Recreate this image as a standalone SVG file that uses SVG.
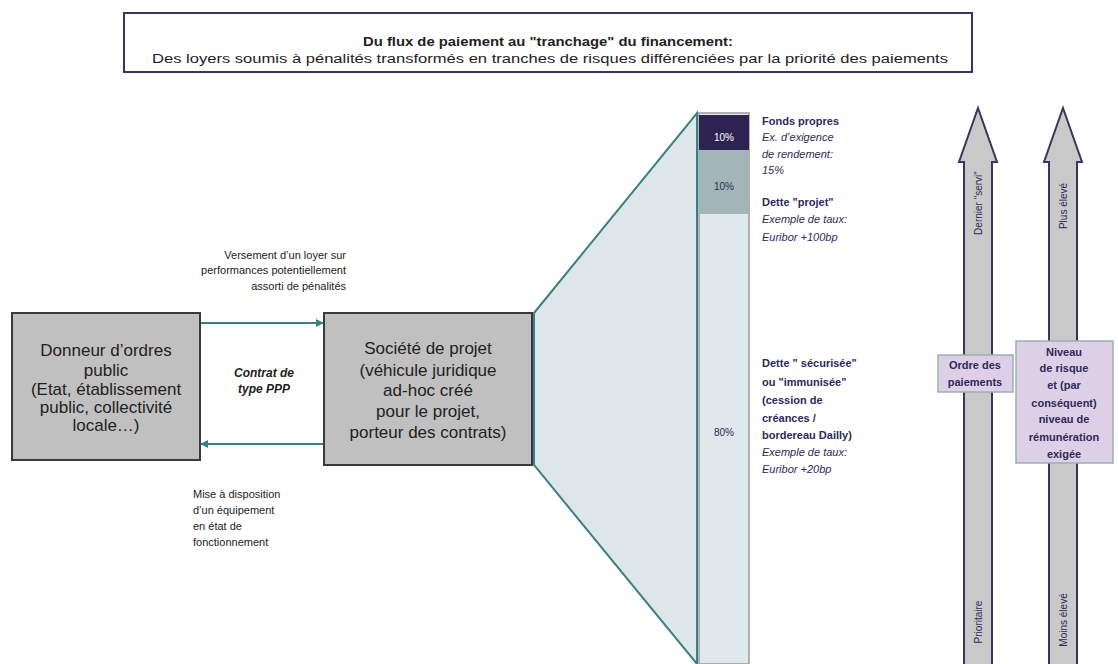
<svg xmlns="http://www.w3.org/2000/svg" width="1118" height="664" viewBox="0 0 1118 664">
<style>
text{font-family:"Liberation Sans",Arial,sans-serif}
.box{fill:#c0c0c0;stroke:#3a3a3a;stroke-width:2}
.bt{font-size:17px;fill:#222;text-anchor:middle}
.note{font-size:11px;fill:#222}
.tr{font-size:11px;fill:#2e2a5a}
.b{font-weight:bold}
.i{font-style:italic}
.arr{fill:#c9c9c9;stroke:#3a3560;stroke-width:2}
.lab{fill:#ddd0e6;stroke:#9ab0b5;stroke-width:1.5}
.lt{font-size:11px;font-weight:bold;fill:#2e2a5a;text-anchor:middle}
.conn{stroke:#3d7f83;stroke-width:2;fill:none}
</style>
<defs>
<marker id="ah" viewBox="0 0 10 10" refX="9" refY="5" markerWidth="4" markerHeight="4" orient="auto">
<path d="M0,0 L10,5 L0,10 z" fill="#3d7f83"/>
</marker>
</defs>

<g id="title">
<rect x="124" y="13" width="848" height="59" fill="#fff" stroke="#3a3560" stroke-width="2"/>
<text x="548" y="46" text-anchor="middle" font-size="12" font-weight="bold" fill="#222" textLength="370" lengthAdjust="spacingAndGlyphs">Du flux de paiement au "tranchage" du financement:</text>
<text x="550" y="63" text-anchor="middle" font-size="12" fill="#222" textLength="796" lengthAdjust="spacingAndGlyphs">Des loyers soumis à pénalités transformés en tranches de risques différenciées par la priorité des paiements</text>
</g>

<g id="funnel">
<polygon points="534,313 697,113 697,664 534,465" fill="#dde6e8" stroke="#3d7f83" stroke-width="2"/>
</g>

<g id="donneur">
<rect class="box" x="12" y="313" width="188" height="147"/>
<text class="bt" x="106" y="356">Donneur d’ordres</text>
<text class="bt" x="106" y="376">public</text>
<text class="bt" x="106" y="395">(Etat, établissement</text>
<text class="bt" x="106" y="413">public, collectivité</text>
<text class="bt" x="106" y="431">locale…)</text>
</g>

<g id="societe">
<rect class="box" x="324" y="313" width="208" height="152"/>
<text class="bt" x="428" y="354" font-size="18">Société de projet</text>
<text class="bt" x="428" y="376">(véhicule juridique</text>
<text class="bt" x="428" y="396">ad-hoc créé</text>
<text class="bt" x="428" y="417">pour le projet,</text>
<text class="bt" x="428" y="438">porteur des contrats)</text>
</g>

<g id="connectors">
<line class="conn" x1="201" y1="323" x2="323" y2="323" marker-end="url(#ah)"/>
<line class="conn" x1="323" y1="444" x2="201" y2="444" marker-end="url(#ah)"/>
</g>

<g id="notes">
<text class="note" x="346" y="259" text-anchor="end">Versement d’un loyer sur</text>
<text class="note" x="346" y="274" text-anchor="end">performances potentiellement</text>
<text class="note" x="346" y="290" text-anchor="end">assorti de pénalités</text>
<text x="264" y="377" text-anchor="middle" font-size="12" font-weight="bold" font-style="italic" fill="#222">Contrat de</text>
<text x="264" y="393" text-anchor="middle" font-size="12" font-weight="bold" font-style="italic" fill="#222">type PPP</text>
<text class="note" x="193" y="498">Mise à disposition</text>
<text class="note" x="193" y="514">d’un équipement</text>
<text class="note" x="193" y="530">en état de</text>
<text class="note" x="193" y="546">fonctionnement</text>
</g>

<g id="tranches">
<rect x="699" y="113" width="50" height="551" fill="#dfe8ea" stroke="#9a9a9a" stroke-width="1.5"/>
<rect x="699" y="115" width="50" height="35" fill="#2c2352"/>
<rect x="699" y="150" width="50" height="64" fill="#a2b6ba"/>
<text x="724" y="141" text-anchor="middle" font-size="10" fill="#fff">10%</text>
<text x="724" y="190" text-anchor="middle" font-size="10" fill="#2e2a5a">10%</text>
<text x="724" y="436" text-anchor="middle" font-size="10" fill="#2e2a5a">80%</text>
</g>

<g id="tranche-labels">
<text class="tr b" x="762" y="125">Fonds propres</text>
<text class="tr i" x="762" y="141">Ex. d’exigence</text>
<text class="tr i" x="762" y="158">de rendement:</text>
<text class="tr i" x="762" y="174">15%</text>
<text class="tr b" x="762" y="206">Dette "projet"</text>
<text class="tr i" x="762" y="223">Exemple de taux:</text>
<text class="tr i" x="762" y="241">Euribor +100bp</text>
<text class="tr b" x="762" y="367">Dette " sécurisée"</text>
<text class="tr b" x="762" y="386">ou "immunisée"</text>
<text class="tr b" x="762" y="404">(cession de</text>
<text class="tr b" x="762" y="422">créances /</text>
<text class="tr b" x="762" y="439">bordereau Dailly)</text>
<text class="tr i" x="762" y="456">Exemple de taux:</text>
<text class="tr i" x="762" y="473">Euribor +20bp</text>
</g>

<g id="ordre-arrow">
<polygon class="arr" points="978,108 997,162 992,162 992,668 964,668 964,162 959,162"/>
<text transform="translate(982,203) rotate(-90)" text-anchor="middle" font-size="10" fill="#2e2a5a">Dernier "servi"</text>
<text transform="translate(982,622) rotate(-90)" text-anchor="middle" font-size="10" fill="#2e2a5a">Prioritaire</text>
<rect class="lab" x="938" y="355" width="75" height="37"/>
<text class="lt" x="975" y="369">Ordre des</text>
<text class="lt" x="975" y="386">paiements</text>
</g>

<g id="risque-arrow">
<polygon class="arr" points="1063,108 1082,162 1077,162 1077,668 1049,668 1049,162 1044,162"/>
<text transform="translate(1067,206) rotate(-90)" text-anchor="middle" font-size="10" fill="#2e2a5a">Plus élevé</text>
<text transform="translate(1067,620) rotate(-90)" text-anchor="middle" font-size="10" fill="#2e2a5a">Moins élevé</text>
<rect class="lab" x="1016" y="341" width="97" height="122"/>
<text class="lt" x="1064" y="356">Niveau</text>
<text class="lt" x="1064" y="372">de risque</text>
<text class="lt" x="1064" y="389">et (par</text>
<text class="lt" x="1064" y="407">conséquent)</text>
<text class="lt" x="1064" y="423">niveau de</text>
<text class="lt" x="1064" y="441">rémunération</text>
<text class="lt" x="1064" y="458">exigée</text>
</g>
</svg>
